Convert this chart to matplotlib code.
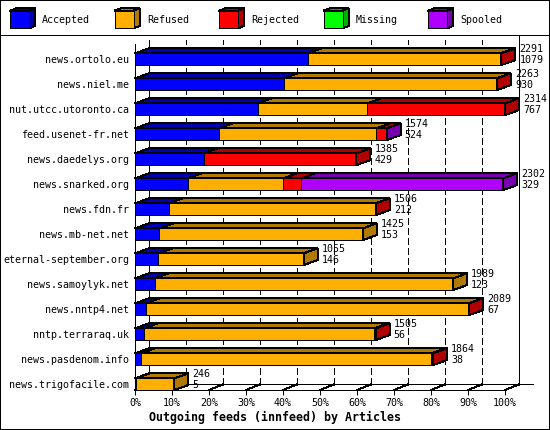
import matplotlib
matplotlib.use("Agg")
import matplotlib.pyplot as plt
from matplotlib.patches import Polygon, Rectangle
import numpy as np


W, H, DPI = 550, 430, 100

hosts = ["news.ortolo.eu", "news.niel.me", "nut.utcc.utoronto.ca",
         "feed.usenet-fr.net", "news.daedelys.org", "news.snarked.org",
         "news.fdn.fr", "news.mb-net.net", "eternal-september.org",
         "news.samoylyk.net", "news.nntp4.net", "nntp.terraraq.uk",
         "news.pasdenom.info", "news.trigofacile.com"]

offered = [2291, 2263, 2314, 1574, 1385, 2302, 1506, 1425, 1055, 1989,
           2089, 1505, 1864, 246]
accepted = [1079, 930, 767, 524, 429, 329, 212, 153, 146, 123, 67, 56, 38, 5]
refused = [1208, 1330, 686, 985, 0, 597, 1292, 1272, 909, 1866, 2017, 1439,
           1816, 241]
rejected = [4, 3, 861, 62, 956, 113, 2, 0, 0, 0, 5, 10, 10, 0]
missing = [0, 0, 0, 0, 0, 0, 0, 0, 0, 0, 0, 0, 0, 0]
spooled = [0, 0, 0, 3, 0, 1263, 0, 0, 0, 0, 0, 0, 0, 0]

series_names = ["Accepted", "Refused", "Rejected", "Missing", "Spooled"]
series_colors = ["#0000FF", "#FFAF00", "#FF0000", "#00FF00", "#AF00FF"]

xticks = list(range(0, 101, 10))
xticklabels = [f"{t}%" for t in xticks]

# pseudo 3d depth, in pixels
DEPTH_X, DEPTH_Y = 14, 5
PX = 0.72  # one pixel in points


def dark(color, f=0.69):
    r, g, b = matplotlib.colors.to_rgb(color)
    return (r * f, g * f, b * f)


def poly(ax, pts, color, zorder=3):
    ax.add_patch(Polygon(pts, closed=True, facecolor=color, edgecolor="black",
                         lw=PX, zorder=zorder, antialiased=False,
                         clip_on=False))


def box3d(ax, x0, y0, w, h, dx, dy, color, zorder=3):
    # y grows downward on these axes (inverted), so "up" is y - dy
    poly(ax, [(x0, y0), (x0 + w, y0), (x0 + w + dx, y0 - dy),
              (x0 + dx, y0 - dy)], dark(color), zorder)
    poly(ax, [(x0 + w, y0), (x0 + w, y0 + h), (x0 + w + dx, y0 + h - dy),
              (x0 + w + dx, y0 - dy)], dark(color), zorder)
    ax.add_patch(Rectangle((x0, y0), w, h, facecolor=color, edgecolor="black",
                           lw=PX, zorder=zorder, antialiased=False,
                           clip_on=False))


def vline(ax, x, y0, y1, **kw):
    ax.plot([x, x], [y0, y1], color="black", lw=PX, zorder=1, clip_on=False,
            antialiased=False, **kw)


plt.rcParams["font.family"] = "DejaVu Sans Mono"

fig = plt.figure(figsize=(W / DPI, H / DPI), dpi=DPI)

# front plane of the plot: x 135..505 px, y 44..390 px
ax = fig.add_axes([135 / W, 1 - 390 / H, 370 / W, 346 / H])
row_px = 25
first_row_px = 59.2
y_top = (44 - first_row_px) / row_px
y_bot = (390 - first_row_px) / row_px
ax.set_xlim(0, 100)
ax.set_ylim(y_bot, y_top)

dx = DEPTH_X / 3.7
dy = DEPTH_Y / row_px
half = 0.234

scale = 100.0 / max(offered)
rows = np.arange(len(hosts))
series = [accepted, refused, rejected, missing, spooled]

# back wall grid
back_floor = y_bot - 0.22
back_top = (40 - first_row_px) / row_px
for t in xticks:
    if t == 100:
        vline(ax, t + dx, back_floor, (35 - first_row_px) / row_px)
    elif t == 0:
        vline(ax, t + dx, back_floor, back_top)
    else:
        vline(ax, t + dx, back_floor, back_top, ls=(0, (6, 3)))
    ax.plot([t, t + dx], [y_bot, back_floor], color="black", lw=PX, zorder=1,
            clip_on=False, antialiased=False)
ax.plot([dx, 100 + 2 * dx], [back_floor, back_floor], color="black", lw=PX,
        zorder=1, clip_on=False, antialiased=False)

# bars
for i in rows:
    left = 0.0
    last = None
    for s, vals in enumerate(series):
        w = vals[i] * scale
        if w <= 0:
            continue
        y0 = i - half
        poly(ax, [(left, y0), (left + w, y0), (left + w + dx, y0 - dy),
                  (left + dx, y0 - dy)], dark(series_colors[s]), 3)
        ax.barh(i, w, height=2 * half, left=left, color=series_colors[s],
                edgecolor="black", lw=PX, zorder=4, antialiased=False)
        left += w
        last = s
    e = left
    poly(ax, [(e, i - half), (e, i + half), (e + dx, i + half - dy),
              (e + dx, i - half - dy)], dark(series_colors[last]), 4)
    ax.text(e + dx + 1.1, i - 0.42, str(offered[i]), fontsize=7.2,
            va="center", ha="left", clip_on=False)
    ax.text(e + dx + 1.1, i + 0.04, str(accepted[i]), fontsize=7.2,
            va="center", ha="left", clip_on=False)

ax.spines[["top", "right"]].set_visible(False)
for sp in ("left", "bottom"):
    ax.spines[sp].set_linewidth(PX)
    ax.spines[sp].set_antialiased(False)
ax.set_xticks(xticks)
ax.set_xticklabels(xticklabels, fontsize=7.2)
ax.set_yticks(rows)
ax.set_yticklabels(hosts, fontsize=7.2)
ax.tick_params(axis="x", length=3.6, width=PX, pad=2.2)
ax.tick_params(axis="y", length=0, pad=4.3)
ax.patch.set_alpha(0)

fig.text(0.5, 1 - 417 / H, "Outgoing feeds (innfeed) by Articles",
         fontsize=8.4, fontweight="bold", ha="center", va="center")

# legend strip
lax = fig.add_axes([0, 1 - 35 / H, 1, 35 / H])
lax.set_xlim(0, W)
lax.set_ylim(35, 0)
lax.axis("off")
for k, name in enumerate(series_names):
    x0 = 10 + 104.5 * k
    box3d(lax, x0, 10.7, 19, 17.6, 6.4, 2.4, series_colors[k])
    lax.text(x0 + 32.3, 20, name, fontsize=7.2, va="center", ha="left")
lax.axhline(35, color="black", lw=PX, clip_on=False, antialiased=False)

fig.add_artist(Rectangle((0, 0), 1, 1, transform=fig.transFigure, fill=False,
                         edgecolor="black", lw=2 * PX, antialiased=False))

fig.savefig("out.png", dpi=DPI)
